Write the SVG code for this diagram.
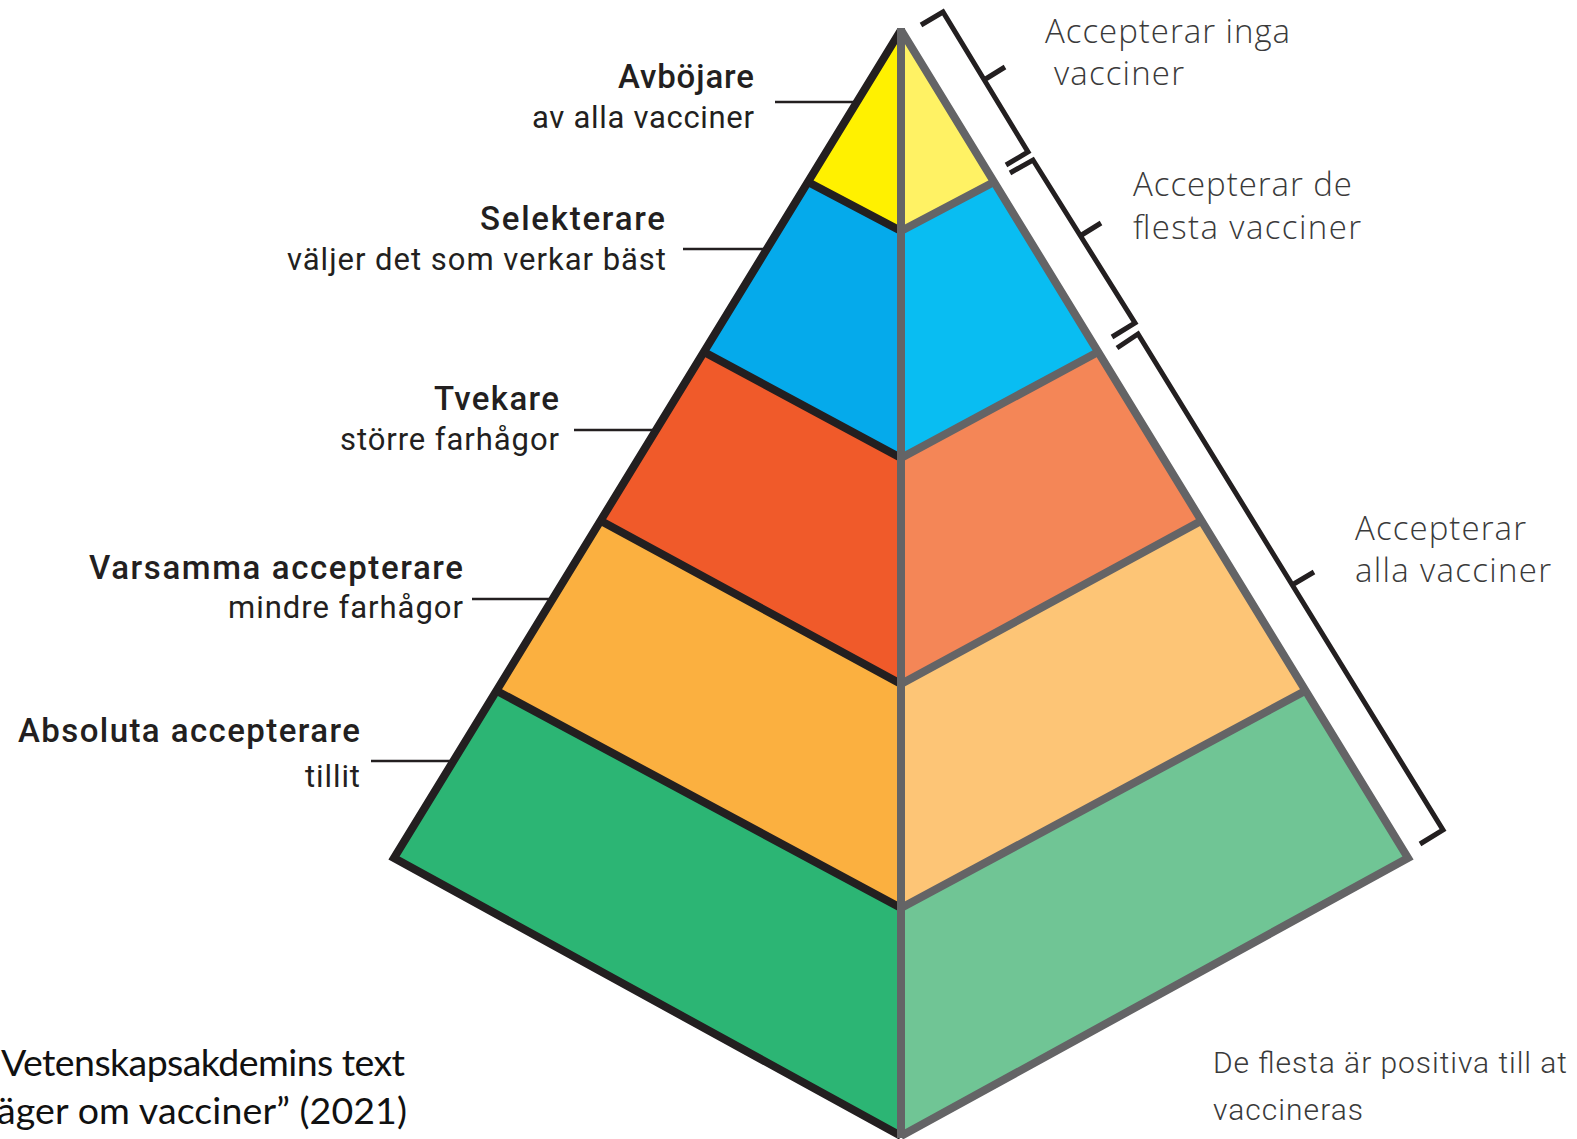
<svg xmlns="http://www.w3.org/2000/svg" width="1577" height="1139" viewBox="0 0 1577 1139">
<style>
.bl{stroke:#231f20;stroke-width:8;fill:none;stroke-linejoin:miter;stroke-miterlimit:10}
.gr{stroke:#646466;stroke-width:8;fill:none;stroke-linejoin:miter;stroke-miterlimit:10}
.br{stroke:#231f20;stroke-width:5;fill:none;stroke-linejoin:miter}
.ld{stroke:#231f20;stroke-width:2.5}
.h{font-family:Roboto,"Liberation Sans",sans-serif;font-weight:500;font-size:33px;fill:#231f20;text-anchor:end}
.s{font-family:Roboto,"Liberation Sans",sans-serif;font-weight:400;font-size:31px;fill:#231f20;text-anchor:end}
.r{font-family:"Open Sans","Liberation Sans",sans-serif;font-weight:300;font-size:33px;fill:#3a3a3a}
.d{font-family:Roboto,"Liberation Sans",sans-serif;font-weight:300;font-size:30px;fill:#3a3a3a}
.c{font-family:Lato,"Open Sans","Liberation Sans",sans-serif;font-weight:400;font-size:37.5px;fill:#111}
</style>
<rect width="1577" height="1139" fill="#fff"/>
<g id="pyramid-left">
<polygon points="901,30 808,182 901,231" fill="#fff100"/>
<polygon points="808,182 704,352 901,458 901,231" fill="#05aaeb"/>
<polygon points="704,352 601,521 901,684 901,458" fill="#f05a2a"/>
<polygon points="601,521 497,691 901,908 901,684" fill="#fbb040"/>
<polygon points="497,691 394,858 901,1136 901,908" fill="#2cb574"/>
</g>
<g id="pyramid-right">
<polygon points="901,30 994,182 901,231" fill="#fff264"/>
<polygon points="994,182 1098,352 901,458 901,231" fill="#09bdf2"/>
<polygon points="1098,352 1201,521 901,684 901,458" fill="#f48657"/>
<polygon points="1201,521 1305,691 901,908 901,684" fill="#fdc576"/>
<polygon points="1305,691 1408,858 901,1136 901,908" fill="#70c595"/>
</g>
<g id="pyramid-lines">
<path class="bl" d="M901,30 L394,858 L901,1136"/>
<path class="bl" d="M808,182 L901,231 M704,352 L901,458 M601,521 L901,684 M497,691 L901,908"/>
<path class="gr" d="M901,30 L1408,858 L901,1136"/>
<path class="gr" d="M994,182 L901,231 M1098,352 L901,458 M1201,521 L901,684 M1305,691 L901,908"/>
<path class="gr" d="M901,28 L901,1138"/>
</g>
<g id="connectors">
<line class="ld" x1="775" y1="102" x2="858" y2="102"/>
<line class="ld" x1="683" y1="249" x2="767" y2="249"/>
<line class="ld" x1="574" y1="430" x2="658" y2="430"/>
<line class="ld" x1="472" y1="599" x2="555" y2="599"/>
<line class="ld" x1="371" y1="761" x2="455" y2="761"/>
</g>
<g id="brackets">
<path class="br" d="M921,25 L943,12 L1028,152 L1006,165 M984,80 L1005,67"/>
<path class="br" d="M1010,173 L1033,160 L1135,323 L1112,337 M1080,236 L1101,223"/>
<path class="br" d="M1117,348 L1138,334 L1443,830 L1420,844 M1292,585 L1314,572"/>
</g>
<g id="label-avbojare">
<text class="h" x="754" y="88" textLength="136">Avböjare</text>
<text class="s" x="754" y="128" textLength="222">av alla vacciner</text>
</g>
<g id="label-selekterare">
<text class="h" x="665" y="230" textLength="185">Selekterare</text>
<text class="s" x="666" y="270" textLength="379">väljer det som verkar bäst</text>
</g>
<g id="label-tvekare">
<text class="h" x="559" y="410" textLength="125">Tvekare</text>
<text class="s" x="559" y="450" textLength="219">större farhågor</text>
</g>
<g id="label-varsamma">
<text class="h" x="463" y="579" textLength="374">Varsamma accepterare</text>
<text class="s" x="463" y="618" textLength="235">mindre farhågor</text>
</g>
<g id="label-absoluta">
<text class="h" x="360" y="742" textLength="342">Absoluta accepterare</text>
<text class="s" x="360" y="787" textLength="55">tillit</text>
</g>
<g id="label-inga">
<text class="r" x="1045" y="43" textLength="245">Accepterar inga</text>
<text class="r" x="1054" y="85" textLength="130">vacciner</text>
</g>
<g id="label-flesta">
<text class="r" x="1133" y="196" textLength="219">Accepterar de</text>
<text class="r" x="1133" y="239" textLength="228">flesta vacciner</text>
</g>
<g id="label-alla">
<text class="r" x="1355" y="540" textLength="171">Accepterar</text>
<text class="r" x="1355" y="582" textLength="196">alla vacciner</text>
</g>
<g id="note-right">
<text class="d" x="1213" y="1073" textLength="354">De flesta är positiva till at</text>
<text class="d" x="1213" y="1120" textLength="150">vaccineras</text>
</g>
<g id="note-left">
<text class="c" x="1" y="1076" textLength="404">Vetenskapsakdemins text</text>
<text class="c" x="-3" y="1124" textLength="410">äger om vacciner” (2021)</text>
</g>
</svg>
